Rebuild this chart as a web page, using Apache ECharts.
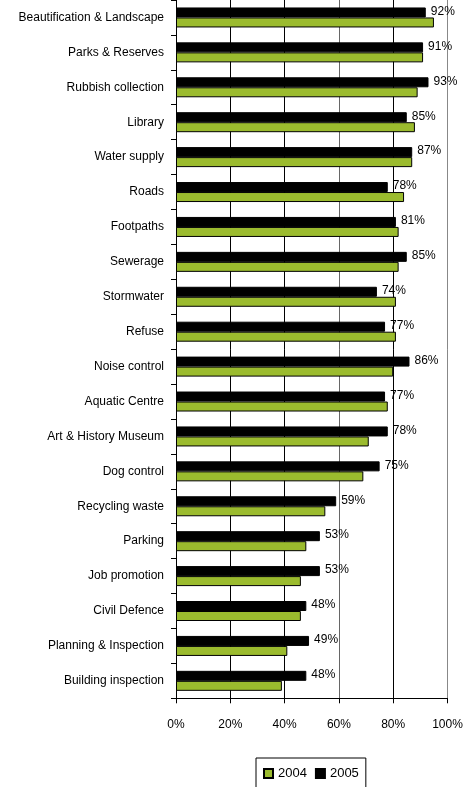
<!DOCTYPE html>
<html>
<head>
<meta charset="utf-8">
<script src="https://cdn.jsdelivr.net/npm/echarts@6/dist/echarts.min.js"></script>
<style>
  html, body { margin: 0; padding: 0; background: #fff; }
  #chart { width: 467px; height: 787px; }
</style>
</head>
<body>
<div id="chart"></div>
<script>
// Services, listed top to bottom
const services = [
  'Beautification & Landscape', 'Parks & Reserves', 'Rubbish collection', 'Library',
  'Water supply', 'Roads', 'Footpaths', 'Sewerage', 'Stormwater', 'Refuse',
  'Noise control', 'Aquatic Centre', 'Art & History Museum', 'Dog control',
  'Recycling waste', 'Parking', 'Job promotion', 'Civil Defence',
  'Planning & Inspection', 'Building inspection'
];
// Satisfaction (%) per year
const values2004 = [95, 91, 89, 88, 87, 84, 82, 82, 81, 81, 80, 78, 71, 69, 55, 48, 46, 46, 41, 39];
const values2005 = [92, 91, 93, 85, 87, 78, 81, 85, 74, 77, 86, 77, 78, 75, 59, 53, 53, 48, 49, 48];
const years = ['2004', '2005'];
const xTicks = [0, 20, 40, 60, 80, 100];

const FONT = '"Liberation Sans", Arial, sans-serif';
const GREEN = '#9BBB2E';

// category axis runs bottom-up, so feed it reversed
const cats = services.slice().reverse();
const s2004 = values2004.slice().reverse();
const s2005 = values2005.slice().reverse();

const chart = echarts.init(document.getElementById('chart'), null, { renderer: 'canvas' });
chart.setOption({
  animation: false,
  backgroundColor: '#fff',
  textStyle: { fontFamily: FONT },
  grid: { left: 176, right: 19.5, top: -1.7, bottom: 88.7, containLabel: false },
  xAxis: {
    type: 'value',
    min: xTicks[0],
    max: xTicks[xTicks.length - 1],
    interval: xTicks[1] - xTicks[0],
    axisLine: { show: true, lineStyle: { color: '#000', width: 1 } },
    axisTick: { show: true, length: 5, lineStyle: { color: '#000' } },
    axisLabel: { formatter: '{value}%', color: '#000', fontSize: 12, fontFamily: FONT, margin: 20 },
    splitLine: { show: true, lineStyle: { color: ['#000', '#000', '#000', '#666', '#000', '#888'], width: 1 } }
  },
  yAxis: {
    type: 'category',
    data: cats,
    axisLine: { show: true, lineStyle: { color: '#000', width: 1 } },
    axisTick: { show: true, length: 5, lineStyle: { color: '#000' } },
    axisLabel: { color: '#000', fontSize: 12, fontFamily: FONT, margin: 12 }
  },
  legend: {
    data: years,
    left: 256,
    top: 758,
    orient: 'horizontal',
    itemWidth: 9,
    itemHeight: 9,
    itemGap: 8,
    padding: [9, 7, 9, 7],
    borderColor: '#000',
    borderWidth: 1,
    borderRadius: 0,
    textStyle: { color: '#000', fontSize: 13, fontFamily: FONT },
    icon: 'rect'
  },
  series: [
    // first series sits lower in each band, so 2005 goes first to stack on top
    {
      name: years[1],
      type: 'bar',
      data: s2005,
      barWidth: 10,
      barGap: '0%',
      itemStyle: { color: '#000', borderColor: '#000', borderWidth: 1 },
      label: {
        show: true,
        position: 'right',
        distance: 5,
        offset: [0, -1],
        formatter: '{c}%',
        color: '#000',
        fontSize: 12,
        fontFamily: FONT
      }
    },
    {
      name: years[0],
      type: 'bar',
      data: s2004,
      barWidth: 10,
      barGap: '0%',
      itemStyle: { color: GREEN, borderColor: '#000', borderWidth: 1 }
    }
  ]
});
</script>
</body>
</html>
